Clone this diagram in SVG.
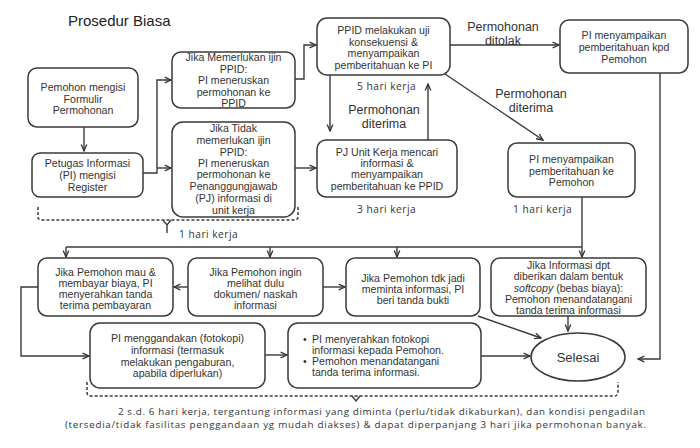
<svg xmlns="http://www.w3.org/2000/svg" width="700" height="448" viewBox="0 0 700 448">
<style>
.box{fill:#fff;stroke:#3a3a3a;stroke-width:1.5}
.t{font-family:"Liberation Sans",Arial,sans-serif;font-size:10.6px;fill:#333;text-anchor:middle}
.tl{font-family:"Liberation Sans",Arial,sans-serif;font-size:10.6px;fill:#333}
.lbl{font-family:"Liberation Sans",Arial,sans-serif;font-size:12.5px;fill:#333;text-anchor:middle}
.hk{font-family:"Open Sans",sans-serif;font-size:10.2px;fill:#333;letter-spacing:0.5px}
.ft{font-family:"Open Sans",sans-serif;font-size:9.8px;fill:#333;text-anchor:end}
.c{fill:none;stroke:#3a3a3a;stroke-width:1.4}
.a{marker-end:url(#ah)}
.d{fill:none;stroke:#3a3a3a;stroke-width:1.5;stroke-dasharray:3,2}
</style>
<defs>
<marker id="ah" viewBox="0 0 10 10" refX="9" refY="5" markerWidth="8" markerHeight="8" orient="auto" markerUnits="userSpaceOnUse">
<path d="M1,1.5 L9,5 L1,8.5" fill="none" stroke="#333" stroke-width="1.6"/>
</marker>
</defs>
<rect width="700" height="448" fill="#fff"/>
<text id="title" x="68" y="26" style="font-family:'Liberation Sans',Arial,sans-serif;font-size:15px;fill:#222">Prosedur Biasa</text>

<g id="connectors">
<path class="c a" d="M84,127 V151"/>
<path class="c a" d="M143,173 H157 V80 H171"/>
<path class="c a" d="M157,168 H171"/>
<path class="c a" d="M295,79 H304 V45 H316"/>
<path class="c a" d="M295,168 H316"/>
<path class="c a" d="M450,45 H559"/>
<path class="c a" d="M330,75 V131"/>
<path class="c a" d="M428,140 V84"/>
<path class="c a" d="M445,74 L543,140"/>
<path class="c a" d="M582,197 V257"/>
<path class="c" d="M66,247 H582"/>
<path class="c a" d="M66,247 V257"/>
<path class="c a" d="M270,247 V257"/>
<path class="c a" d="M397,247 V257"/>
<path class="c a" d="M188,287 H174"/>
<path class="c a" d="M323,287 H345"/>
<path class="c a" d="M38,287 H21 V356 H89"/>
<path class="c a" d="M265,355 H287"/>
<path class="c a" d="M481,356 H530"/>
<path class="c a" d="M478,316 L541,338"/>
<path class="c a" d="M568,316 V331"/>
<path class="c a" d="M660,73 V359 H638"/>
<path class="d" d="M38,207 V217 Q38,220 42,220 H294 Q298,220 298,217 V207"/>
<path class="c" d="M163,220 L167,225 L171,220 M167,225 V233"/>
<path class="d" d="M87,382 V392 Q87,396 91,396 H614 Q618,396 618,392 V382"/>
<path class="c" d="M352,396 L356,401 L360,396"/>
</g>

<g id="labels">
<text class="lbl" x="503" y="31">Permohonan</text>
<text class="lbl" x="503" y="45">ditolak</text>
<text class="lbl" x="384" y="114">Permohonan</text>
<text class="lbl" x="384" y="128">diterima</text>
<text class="lbl" x="531" y="98">Permohonan</text>
<text class="lbl" x="531" y="112">diterima</text>
<text class="hk" x="357" y="90">5 hari kerja</text>
<text class="hk" x="357" y="213">3 hari kerja</text>
<text class="hk" x="513" y="213">1 hari kerja</text>
<text class="hk" x="179" y="238">1 hari kerja</text>
<text class="ft" x="645" y="415" textLength="527" lengthAdjust="spacing">2 s.d. 6 hari kerja, tergantung informasi yang diminta (perlu/tidak dikaburkan), dan kondisi pengadilan</text>
<text class="ft" x="646" y="428" textLength="581" lengthAdjust="spacing">(tersedia/tidak fasilitas penggandaan yg mudah diakses) &amp; dapat diperpanjang 3 hari jika permohonan banyak.</text>
</g>

<g id="n-pemohon">
<rect class="box" x="28" y="68" width="110" height="59" rx="9"/>
<text class="t" x="83" y="91">Pemohon mengisi</text>
<text class="t" x="83" y="102.5">Formulir</text>
<text class="t" x="83" y="114">Permohonan</text>
</g>
<g id="n-petugas">
<rect class="box" x="32" y="153" width="111" height="44" rx="8"/>
<text class="t" x="87.5" y="167">Petugas Informasi</text>
<text class="t" x="87.5" y="179">(PI) mengisi</text>
<text class="t" x="87.5" y="191">Register</text>
</g>
<g id="n-ijin">
<rect class="box" x="172" y="52" width="123" height="56" rx="9"/>
<text class="t" x="233.5" y="61">Jika Memerlukan ijin</text>
<text class="t" x="233.5" y="72.5">PPID:</text>
<text class="t" x="233.5" y="84">PI meneruskan</text>
<text class="t" x="233.5" y="95.5">permohonan ke</text>
<text class="t" x="233.5" y="107">PPID</text>
</g>
<g id="n-tidak">
<rect class="box" x="172" y="122" width="123" height="95" rx="11"/>
<text class="t" x="233.5" y="132">Jika Tidak</text>
<text class="t" x="233.5" y="144">memerlukan ijin</text>
<text class="t" x="233.5" y="156">PPID:</text>
<text class="t" x="233.5" y="167">PI meneruskan</text>
<text class="t" x="233.5" y="178">permohonan ke</text>
<text class="t" x="233.5" y="190">Penanggungjawab</text>
<text class="t" x="233.5" y="202">(PJ) informasi di</text>
<text class="t" x="233.5" y="213.5">unit kerja</text>
</g>
<g id="n-ppid">
<rect class="box" x="317" y="18" width="133" height="57" rx="10"/>
<text class="t" x="383.5" y="34">PPID melakukan uji</text>
<text class="t" x="383.5" y="45.5">konsekuensi &amp;</text>
<text class="t" x="383.5" y="57">menyampaikan</text>
<text class="t" x="383.5" y="68.5">pemberitahuan  ke PI</text>
</g>
<g id="n-tolak">
<rect class="box" x="560" y="20" width="128" height="53" rx="9"/>
<text class="t" x="624" y="39">PI menyampaikan</text>
<text class="t" x="624" y="51">pemberitahuan kpd</text>
<text class="t" x="624" y="63">Pemohon</text>
</g>
<g id="n-pj">
<rect class="box" x="317" y="140" width="140" height="57" rx="9"/>
<text class="t" x="387" y="155.5">PJ Unit  Kerja mencari</text>
<text class="t" x="387" y="167">informasi &amp;</text>
<text class="t" x="387" y="178">menyampaikan</text>
<text class="t" x="387" y="189.5">pemberitahuan  ke PPID</text>
</g>
<g id="n-terima">
<rect class="box" x="508" y="143" width="127" height="54" rx="9"/>
<text class="t" x="571.5" y="163">PI menyampaikan</text>
<text class="t" x="571.5" y="174.5">pemberitahuan  ke</text>
<text class="t" x="571.5" y="186">Pemohon</text>
</g>
<g id="n-bayar">
<rect class="box" x="38" y="258" width="135" height="58" rx="9"/>
<text class="t" x="105.5" y="276">Jika Pemohon  mau &amp;</text>
<text class="t" x="105.5" y="287">membayar biaya, PI</text>
<text class="t" x="105.5" y="298">menyerahkan tanda</text>
<text class="t" x="105.5" y="309">terima pembayaran</text>
</g>
<g id="n-lihat">
<rect class="box" x="188" y="258" width="135" height="58" rx="9"/>
<text class="t" x="255.5" y="276">Jika Pemohon  ingin</text>
<text class="t" x="255.5" y="287">melihat dulu</text>
<text class="t" x="255.5" y="298">dokumen/ naskah</text>
<text class="t" x="255.5" y="309">informasi</text>
</g>
<g id="n-batal">
<rect class="box" x="346" y="258" width="134" height="58" rx="9"/>
<text class="t" x="413" y="282">Jika Pemohon  tdk jadi</text>
<text class="t" x="413" y="293">meminta informasi, PI</text>
<text class="t" x="413" y="304">beri tanda bukti</text>
</g>
<g id="n-softcopy">
<rect class="box" x="491" y="258" width="155" height="58" rx="9"/>
<text class="t" x="568.5" y="268.5">Jika Informasi dpt</text>
<text class="t" x="568.5" y="280">diberikan dalam bentuk</text>
<text class="t" x="568.5" y="291.5"><tspan font-style="italic">softcopy</tspan> (bebas biaya):</text>
<text class="t" x="568.5" y="303">Pemohon menandatangani</text>
<text class="t" x="568.5" y="314">tanda terima informasi</text>
</g>
<g id="n-fotokopi">
<rect class="box" x="90" y="323" width="175" height="65" rx="10"/>
<text class="t" x="177.5" y="342">PI menggandakan (fotokopi)</text>
<text class="t" x="177.5" y="354">informasi (termasuk</text>
<text class="t" x="177.5" y="365.5">melakukan pengaburan,</text>
<text class="t" x="177.5" y="377">apabila diperlukan)</text>
</g>
<g id="n-serah">
<rect class="box" x="288" y="323" width="193" height="65" rx="10"/>
<text class="tl" x="303" y="343">•</text>
<text class="tl" x="312" y="343">PI menyerahkan fotokopi</text>
<text class="tl" x="312" y="354">informasi kepada Pemohon.</text>
<text class="tl" x="303" y="365">•</text>
<text class="tl" x="312" y="365">Pemohon menandatangani</text>
<text class="tl" x="312" y="376">tanda terima informasi.</text>
</g>
<g id="n-selesai">
<ellipse class="box" cx="578" cy="357" rx="47" ry="24"/>
<text x="578" y="362" style="font-family:'Liberation Sans',Arial,sans-serif;font-size:13px;fill:#333;text-anchor:middle">Selesai</text>
</g>
</svg>
